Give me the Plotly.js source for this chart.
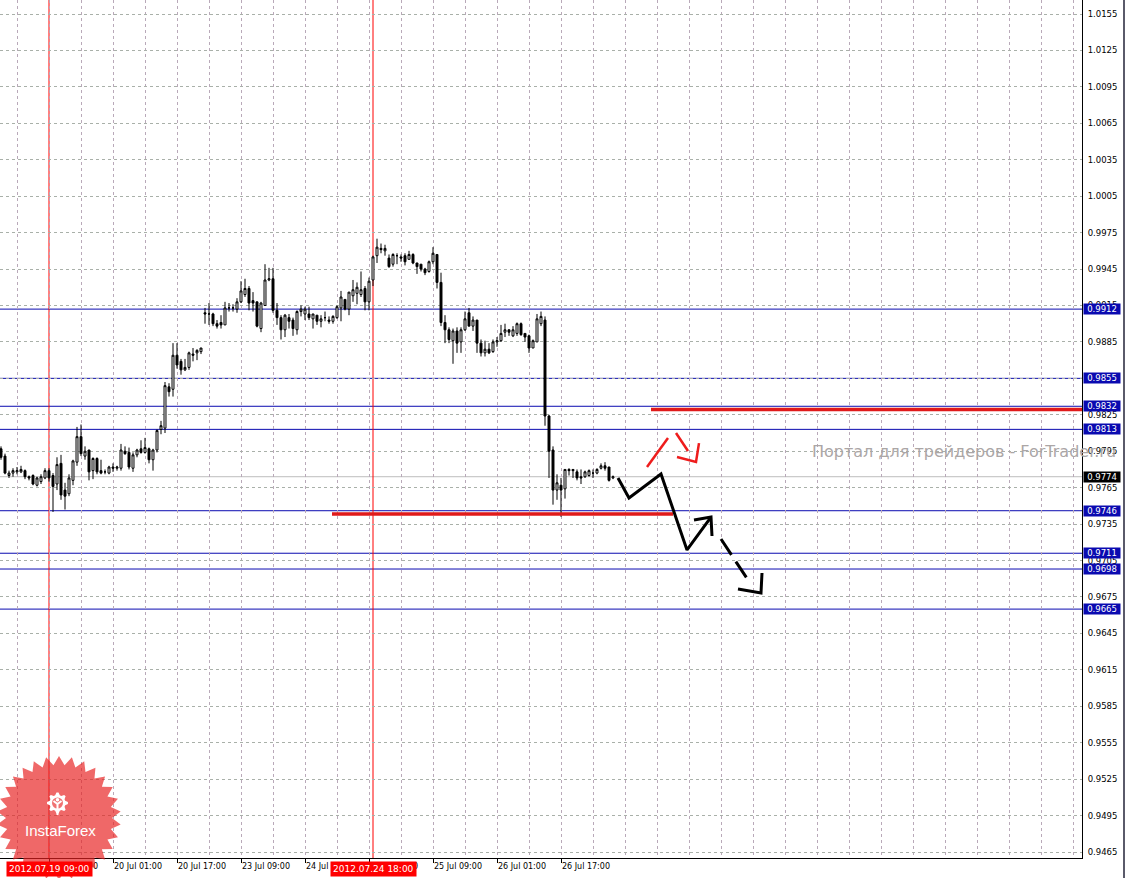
<!DOCTYPE html>
<html>
<head>
<meta charset="utf-8">
<script src="https://cdn.plot.ly/plotly-3.0.1.min.js"></script>
<style>html,body{margin:0;padding:0;background:#fff;}#chart{width:1126px;height:878px;}</style>
</head>
<body>
<div id="chart"></div>
<script>
// ---- Hourly candles, index 0 = 18 Jul 21:00 ----
const openP = [0.9797,0.9791,0.9775,0.9777,0.9778,0.9778,0.9779,0.9774,0.9775,0.9767,0.9770,0.9773,0.9779,0.9775,0.9768,0.9785,0.9763,0.9760,0.9771,0.9786,
0.9807,0.9791,0.9796,0.9779,0.9789,0.9779,0.9778,0.9777,0.9782,0.9781,0.9781,0.9795,0.9794,0.9781,0.9792,0.9797,0.9794,0.9797,0.9788,0.9796,
0.9813,0.9814,0.9848,0.9846,0.9874,0.9869,0.9862,0.9864,0.9875,0.9876,0.9877,0.9909,0.9908,0.9908,0.9900,0.9901,0.9899,0.9913,0.9913,0.9912,
0.9918,0.9924,0.9929,0.9919,0.9918,0.9896,0.9915,0.9936,0.9937,0.9911,0.9905,0.9895,0.9905,0.9903,0.9895,0.9910,0.9908,0.9908,0.9904,0.9907,
0.9902,0.9905,0.9903,0.9902,0.9905,0.9913,0.9920,0.9912,0.9923,0.9925,0.9924,0.9929,0.9918,0.9936,0.9956,0.9962,0.9960,0.9954,0.9949,0.9956,
0.9955,0.9956,0.9953,0.9957,0.9950,0.9949,0.9945,0.9943,0.9951,0.9957,0.9934,0.9901,0.9895,0.9886,0.9894,0.9885,0.9895,0.9909,0.9898,0.9903,
0.9884,0.9876,0.9879,0.9877,0.9885,0.9886,0.9893,0.9895,0.9890,0.9892,0.9900,0.9892,0.9890,0.9880,0.9885,0.9900,0.9903,0.9824,0.9796,0.9763,
0.9767,0.9764,0.9780,0.9780,0.9778,0.9774,0.9774,0.9775,0.9777,0.9777,0.9781,0.9783,0.9782,0.9773];
const highP = [0.9799,0.9793,0.9779,0.9781,0.9782,0.9783,0.9780,0.9775,0.9776,0.9774,0.9776,0.9781,0.9781,0.9777,0.9790,0.9792,0.9769,0.9776,0.9788,0.9815,
0.9817,0.9799,0.9796,0.9790,0.9790,0.9788,0.9780,0.9783,0.9785,0.9783,0.9801,0.9799,0.9798,0.9794,0.9797,0.9804,0.9806,0.9798,0.9797,0.9813,
0.9820,0.9852,0.9851,0.9884,0.9884,0.9871,0.9871,0.9877,0.9880,0.9879,0.9880,0.9913,0.9917,0.9909,0.9903,0.9907,0.9918,0.9917,0.9916,0.9921,
0.9935,0.9937,0.9931,0.9926,0.9918,0.9918,0.9949,0.9946,0.9946,0.9917,0.9907,0.9908,0.9908,0.9905,0.9911,0.9915,0.9914,0.9914,0.9908,0.9907,
0.9907,0.9910,0.9906,0.9907,0.9915,0.9927,0.9920,0.9926,0.9936,0.9934,0.9943,0.9931,0.9938,0.9956,0.9970,0.9966,0.9965,0.9957,0.9958,0.9958,
0.9957,0.9958,0.9960,0.9958,0.9950,0.9949,0.9946,0.9952,0.9963,0.9957,0.9942,0.9907,0.9897,0.9896,0.9897,0.9897,0.9910,0.9913,0.9906,0.9903,
0.9887,0.9886,0.9884,0.9887,0.9889,0.9899,0.9900,0.9895,0.9898,0.9901,0.9901,0.9892,0.9891,0.9887,0.9908,0.9910,0.9906,0.9825,0.9799,0.9776,
0.9773,0.9780,0.9781,0.9780,0.9780,0.9780,0.9779,0.9780,0.9780,0.9781,0.9785,0.9786,0.9782,0.9775];
const lowP = [0.9788,0.9776,0.9773,0.9774,0.9776,0.9777,0.9772,0.9771,0.9767,0.9766,0.9768,0.9772,0.9770,0.9745,0.9763,0.9755,0.9747,0.9758,0.9767,0.9783,
0.9791,0.9788,0.9771,0.9772,0.9776,0.9776,0.9776,0.9776,0.9778,0.9779,0.9779,0.9792,0.9780,0.9778,0.9790,0.9793,0.9793,0.9785,0.9779,0.9794,
0.9809,0.9810,0.9840,0.9840,0.9863,0.9858,0.9861,0.9862,0.9869,0.9870,0.9875,0.9900,0.9899,0.9898,0.9896,0.9896,0.9899,0.9910,0.9910,0.9909,
0.9917,0.9922,0.9911,0.9910,0.9897,0.9893,0.9915,0.9935,0.9909,0.9899,0.9887,0.9889,0.9896,0.9890,0.9891,0.9906,0.9903,0.9903,0.9896,0.9899,
0.9897,0.9902,0.9900,0.9900,0.9904,0.9902,0.9911,0.9907,0.9918,0.9916,0.9922,0.9911,0.9911,0.9931,0.9950,0.9958,0.9956,0.9946,0.9947,0.9949,
0.9951,0.9948,0.9953,0.9949,0.9941,0.9943,0.9940,0.9942,0.9949,0.9929,0.9898,0.9884,0.9884,0.9867,0.9876,0.9876,0.9894,0.9898,0.9894,0.9876,
0.9873,0.9873,0.9875,0.9876,0.9881,0.9885,0.9889,0.9890,0.9889,0.9890,0.9890,0.9885,0.9876,0.9880,0.9885,0.9898,0.9816,0.9773,0.9751,0.9755,
0.9741,0.9756,0.9775,0.9773,0.9771,0.9768,0.9773,0.9774,0.9773,0.9776,0.9780,0.9779,0.9770,0.9772];
const closeP = [0.9790,0.9777,0.9777,0.9779,0.9779,0.9780,0.9774,0.9773,0.9768,0.9773,0.9774,0.9779,0.9773,0.9766,0.9784,0.9759,0.9758,0.9773,0.9787,0.9807,
0.9793,0.9795,0.9778,0.9789,0.9778,0.9777,0.9778,0.9782,0.9781,0.9782,0.9796,0.9793,0.9782,0.9792,0.9796,0.9794,0.9798,0.9788,0.9796,0.9812,
0.9816,0.9849,0.9844,0.9874,0.9866,0.9862,0.9864,0.9876,0.9874,0.9878,0.9880,0.9908,0.9908,0.9900,0.9898,0.9899,0.9913,0.9913,0.9913,0.9918,
0.9927,0.9929,0.9917,0.9917,0.9898,0.9917,0.9936,0.9937,0.9911,0.9905,0.9895,0.9907,0.9902,0.9896,0.9910,0.9912,0.9912,0.9905,0.9908,0.9902,
0.9904,0.9905,0.9902,0.9906,0.9914,0.9922,0.9912,0.9926,0.9928,0.9930,0.9928,0.9918,0.9935,0.9955,0.9963,0.9961,0.9962,0.9947,0.9957,0.9956,
0.9954,0.9951,0.9957,0.9950,0.9947,0.9945,0.9942,0.9951,0.9958,0.9934,0.9901,0.9895,0.9887,0.9894,0.9884,0.9895,0.9904,0.9898,0.9903,0.9884,
0.9876,0.9879,0.9876,0.9885,0.9886,0.9892,0.9895,0.9893,0.9895,0.9900,0.9891,0.9889,0.9880,0.9886,0.9904,0.9906,0.9824,0.9795,0.9763,0.9769,
0.9763,0.9780,0.9779,0.9779,0.9773,0.9773,0.9778,0.9779,0.9777,0.9780,0.9783,0.9781,0.9771,0.9774];

// time-axis labels (bar index -> label)
const timeTickIdx = [12, 28, 44, 60, 76, 92, 108, 124, 140];
const timeTickText = ['19 Jul 09:00','20 Jul 01:00','20 Jul 17:00','23 Jul 09:00','24 Jul 01:00','24 Jul 17:00','25 Jul 09:00','26 Jul 01:00','26 Jul 17:00'];

// vertical event lines
const eventIdx = [12, 93];
const eventText = ['2012.07.19 09:00', '2012.07.24 18:00'];

// horizontal levels
const levelPrices = [0.9912, 0.9855, 0.9832, 0.9813, 0.9746, 0.9711, 0.9698, 0.9665];
const bidPrice = 0.9774;

// thick red support/resistance drawings
const redUpperX = [162.5, 270.25], redUpperY = [0.98294, 0.98294];
const redLowerX = [82.75, 168],    redLowerY = [0.97433, 0.97433];

// forecast drawings (bar index, price)
const blackPathX = [154.25, 157, 165, 171.5, 177.5];
const blackPathY = [0.9773, 0.97565, 0.97763, 0.97137, 0.97408];
const blackHead1X = [173.25, 177.5, 177.75];
const blackHead1Y = [0.97384, 0.97408, 0.97252];
const blackDashX = [180, 186.75];
const blackDashY = [0.97227, 0.9689];
const blackHead2X = [184.25, 190, 190.25];
const blackHead2Y = [0.96815, 0.96783, 0.96947];
const redPathX = [161.5, 166.75, null, 168.75, 171.75];
const redPathY = [0.9782, 0.98059, null, 0.981, 0.97952];
const redHeadX = [169, 173.75, 174.5];
const redHeadY = [0.97902, 0.97861, 0.98017];

const barIdx = openP.map((_, i) => i);

const FONT = 'DejaVu Sans, Tahoma, sans-serif';
const LEVEL_BLUE = '#0a0ab0';

const traces = [
  {type:'candlestick', x: barIdx, open: openP, high: highP, low: lowP, close: closeP,
   increasing:{line:{color:'#000000', width:1}, fillcolor:'#ffffff'},
   decreasing:{line:{color:'#000000', width:1}, fillcolor:'#000000'},
   whiskerwidth:0, hoverinfo:'skip', showlegend:false},
  {type:'scatter', mode:'lines', x: redUpperX, y: redUpperY, line:{color:'#e01a1a', width:3.5}, hoverinfo:'skip'},
  {type:'scatter', mode:'lines', x: redLowerX, y: redLowerY, line:{color:'#e01a1a', width:3.5}, hoverinfo:'skip'},
  {type:'scatter', mode:'lines', x: blackPathX, y: blackPathY, line:{color:'#000000', width:3}, hoverinfo:'skip'},
  {type:'scatter', mode:'lines', x: blackHead1X, y: blackHead1Y, line:{color:'#000000', width:3}, hoverinfo:'skip'},
  {type:'scatter', mode:'lines', x: blackDashX, y: blackDashY, line:{color:'#000000', width:3, dash:'19px,8px'}, hoverinfo:'skip'},
  {type:'scatter', mode:'lines', x: blackHead2X, y: blackHead2Y, line:{color:'#000000', width:3}, hoverinfo:'skip'},
  {type:'scatter', mode:'lines', x: redPathX, y: redPathY, line:{color:'#ee1c1c', width:2.5}, connectgaps:false, hoverinfo:'skip'},
  {type:'scatter', mode:'lines', x: redHeadX, y: redHeadY, line:{color:'#ee1c1c', width:2.5}, hoverinfo:'skip'}
];

// plot area geometry (for decorative logo in paper coords)
const PW = 1082, PH = 858;
const px = v => v / PW;
const py = v => 1 - v / PH;

const shapes = [];
levelPrices.forEach(p => shapes.push({type:'line', xref:'paper', x0:0, x1:1, yref:'y', y0:p, y1:p, line:{color:LEVEL_BLUE, width:1}, layer:'below'}));
shapes.push({type:'line', xref:'paper', x0:0, x1:1, yref:'y', y0:bidPrice, y1:bidPrice, line:{color:'#bdbdbd', width:1}, layer:'below'});
eventIdx.forEach(ix => shapes.push({type:'line', xref:'x', x0:ix, x1:ix, yref:'paper', y0:0, y1:1, line:{color:'#ff0000', width:1}, layer:'below'}));

// InstaForex starburst logo
(function(){
  const cx = 59, cy = 818, ro = 62, ri = 53, n = 30;
  let d = '';
  for (let k = 0; k < 2*n; k++) {
    const r = (k % 2 === 0) ? ro : ri;
    const a = -Math.PI/2 + k * Math.PI / n;
    const X = px(cx + r*Math.cos(a)), Y = py(cy + r*Math.sin(a));
    d += (k === 0 ? 'M' : 'L') + X.toFixed(5) + ',' + Y.toFixed(5);
  }
  d += 'Z';
  shapes.push({type:'path', xref:'paper', yref:'paper', path:d, fillcolor:'#e82020', opacity:0.68, line:{width:0}, layer:'above'});
  // gear
  const gx = 57.5, gy = 803, gro = 10.5, gri = 8, teeth = 8;
  let g = '';
  for (let k = 0; k < teeth*4; k++) {
    const r = (Math.floor(k/2) % 2 === 0) ? gro : gri;
    const a = -Math.PI/2 + (k - 0.5) * (2*Math.PI/(teeth*4));
    const X = px(gx + r*Math.cos(a)), Y = py(gy + r*Math.sin(a));
    g += (k === 0 ? 'M' : 'L') + X.toFixed(5) + ',' + Y.toFixed(5);
  }
  g += 'Z';
  shapes.push({type:'path', xref:'paper', yref:'paper', path:g, fillcolor:'#ffffff', line:{width:0}, layer:'above'});
  shapes.push({type:'circle', xref:'paper', yref:'paper', x0:px(gx-5.5), x1:px(gx+5.5), y0:py(gy+5.5), y1:py(gy-5.5), fillcolor:'#f07272', line:{width:0}, layer:'above'});
  shapes.push({type:'circle', xref:'paper', yref:'paper', x0:px(gx-1.8), x1:px(gx+1.8), y0:py(gy-1.5), y1:py(gy-5), fillcolor:'#ffffff', line:{width:0}, layer:'above'});
  shapes.push({type:'path', xref:'paper', yref:'paper', path:'M'+px(gx-4)+','+py(gy-2)+'L'+px(gx)+','+py(gy+1)+'L'+px(gx+4)+','+py(gy-2)+'M'+px(gx)+','+py(gy+1)+'L'+px(gx)+','+py(gy+12), line:{color:'#ffffff', width:2}, layer:'above'});
})();

// right window border
shapes.push({type:'line', xref:'paper', yref:'paper', x0:px(1124), x1:px(1124), y0:py(878), y1:1, line:{color:'#5a5a6a', width:2}, layer:'above'});

const annotations = [];
levelPrices.forEach(p => annotations.push({xref:'paper', x:1, xanchor:'left', xshift:1, yref:'y', y:p, yanchor:'middle',
  text:p.toFixed(4), showarrow:false, bgcolor:LEVEL_BLUE, font:{family:FONT, size:8.5, color:'#ffffff'},
  width:36, height:10, borderpad:0, align:'center'}));
annotations.push({xref:'paper', x:1, xanchor:'left', xshift:1, yref:'y', y:bidPrice, yanchor:'middle',
  text:bidPrice.toFixed(4), showarrow:false, bgcolor:'#000000', font:{family:FONT, size:8.5, color:'#ffffff'},
  width:36, height:10, borderpad:0, align:'center'});
eventIdx.forEach((ix, k) => annotations.push({xref:'x', x:ix, xanchor:'center', yref:'paper', y:0, yanchor:'top', yshift:-3,
  text:eventText[k], showarrow:false, bgcolor:'#ff0000', font:{family:FONT, size:9, color:'#ffffff'}, borderpad:2}));
annotations.push({xref:'x', x:202.25, xanchor:'left', yref:'y', y:0.97950, yanchor:'middle',
  text:'Портал для трейдеров - ForTrader.ru', showarrow:false, font:{family:'DejaVu Sans, sans-serif', size:16, color:'#aba6a6'}});
annotations.push({xref:'paper', x:px(60), xanchor:'center', yref:'paper', y:py(830), yanchor:'middle',
  text:'InstaForex', showarrow:false, font:{family:'Liberation Sans, Arial, sans-serif', size:15, color:'#ffffff'}});

const gridX = '#b9a9b9', gridY = '#a9b0a9';

const layout = {
  width:1126, height:878,
  margin:{l:0, r:44, t:0, b:20, pad:0},
  paper_bgcolor:'#ffffff', plot_bgcolor:'#ffffff',
  showlegend:false,
  xaxis:{
    type:'linear', range:[-0.25, 270.25],
    tickmode:'array', tickvals:timeTickIdx, ticktext:timeTickText,
    ticklabelposition:'outside right',
    ticks:'outside', ticklen:4, tickcolor:'#000000',
    tickfont:{family:FONT, size:8, color:'#000000'},
    showgrid:false,
    minor:{tickmode:'linear', tick0:4, dtick:8, showgrid:true, gridcolor:gridX, griddash:'3px,3px', gridwidth:1, ticks:''},
    showline:true, linecolor:'#000000', linewidth:1, zeroline:false,
    rangeslider:{visible:false}, fixedrange:true
  },
  yaxis:{
    side:'right', range:[0.946006, 1.016653],
    tickmode:'linear', tick0:0.9465, dtick:0.003, tickformat:'.4f',
    ticks:'outside', ticklen:3, tickcolor:'rgba(0,0,0,0)',
    tickfont:{family:FONT, size:8.5, color:'#000000'},
    showgrid:true, gridcolor:gridY, griddash:'3px,3px', gridwidth:1,
    showline:true, linecolor:'#000000', linewidth:1, zeroline:false, fixedrange:true
  },
  shapes:shapes,
  annotations:annotations
};

Plotly.newPlot('chart', traces, layout, {staticPlot:true, displayModeBar:false});
</script>
</body>
</html>
